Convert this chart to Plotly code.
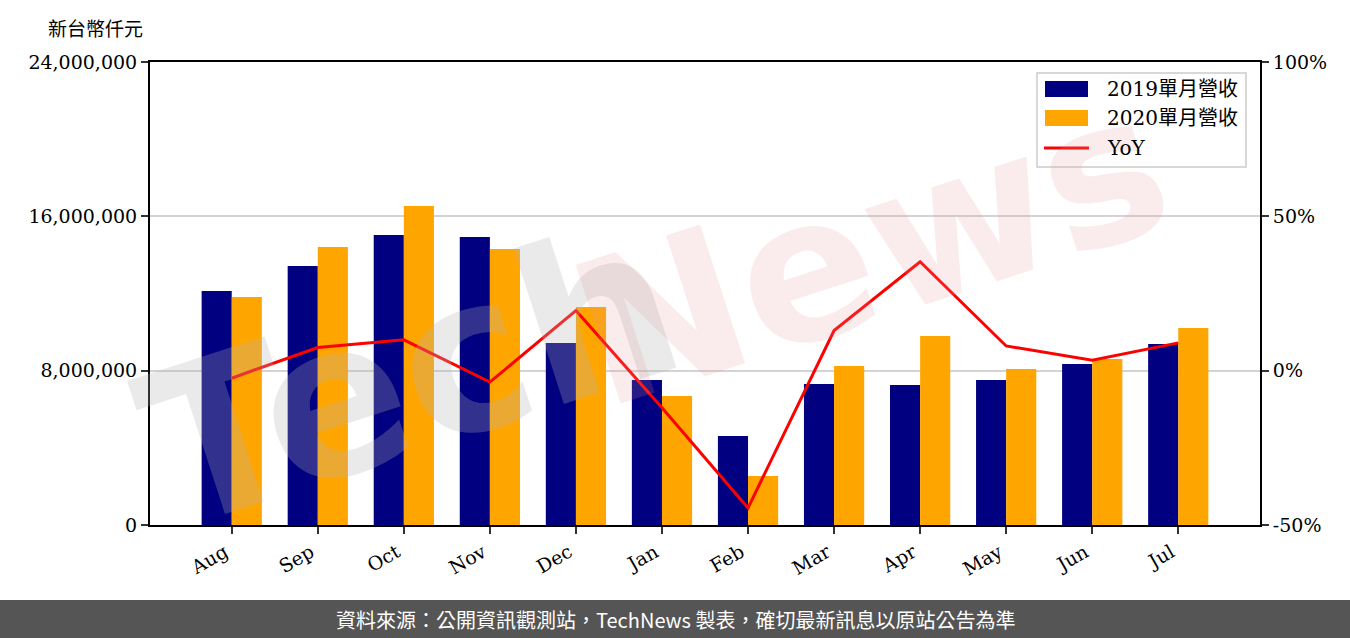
import plotly.graph_objects as go

months = ["Aug", "Sep", "Oct", "Nov", "Dec", "Jan", "Feb", "Mar", "Apr", "May", "Jun", "Jul"]
rev_2019 = [12130000, 13430000, 15030000, 14930000, 9430000, 7520000, 4610000, 7310000, 7260000, 7520000, 8350000, 9380000]
rev_2020 = [11820000, 14410000, 16540000, 14310000, 11300000, 6690000, 2540000, 8240000, 9800000, 8090000, 8610000, 10210000]
yoy = [-2.4, 7.5, 10.0, -3.7, 19.5, -12.0, -44.5, 13.0, 35.3, 8.0, 3.4, 9.0]

left_ticks = [0, 8000000, 16000000, 24000000]
left_text = ["0", "8,000,000", "16,000,000", "24,000,000"]
right_ticks = [-50, 0, 50, 100]
right_text = ["-50%", "0%", "50%", "100%"]

series_names = ["2019單月營收", "2020單月營收", "YoY"]
series_colors = ["#000080", "#FFA500", "#FF0000"]

SERIF = "DejaVu Serif, Noto Sans CJK TC, serif"
CJK = "Noto Sans CJK TC, sans-serif"

W, H = 1350, 638
ML, MR, MT, MB = 150, 90, 62, 113
PW, PH = W - ML - MR, H - MT - MB


def px(x):
    return (x - ML) / PW


def py(y):
    return 1 - (y - MT) / PH


fig = go.Figure()
fig.add_trace(go.Bar(x=months, y=rev_2019, name=series_names[0], marker_color=series_colors[0],
                     marker_line_width=0, offsetgroup="a"))
fig.add_trace(go.Bar(x=months, y=rev_2020, name=series_names[1], marker_color=series_colors[1],
                     marker_line_width=0, offsetgroup="b"))
fig.add_trace(go.Scatter(x=months, y=yoy, name=series_names[2], mode="lines",
                         line=dict(color=series_colors[2], width=3), yaxis="y2"))

fig.update_layout(
    width=W, height=H,
    margin=dict(l=ML, r=MR, t=MT, b=MB),
    paper_bgcolor="white", plot_bgcolor="white",
    barmode="group", bargap=0.3, bargroupgap=0,
    font=dict(family=SERIF, size=19, color="black"),
    showlegend=False,
    xaxis=dict(type="category", range=[-0.95, 11.95], showline=True, linecolor="black",
               linewidth=2, mirror=True, ticks="outside", ticklen=7, tickwidth=2,
               tickcolor="#333333", tickangle=-30, showgrid=False, ticklabelshift=-7,
               tickfont=dict(family=SERIF, size=19)),
    yaxis=dict(range=[0, 24000000], tickvals=left_ticks, ticktext=left_text,
               showline=True, linecolor="black", linewidth=2, ticks="outside",
               ticklen=7, tickwidth=2, tickcolor="#333333",
               showgrid=True, gridcolor="#d3d3d3", gridwidth=1.5, zeroline=False,
               tickfont=dict(family=SERIF, size=19)),
    yaxis2=dict(range=[-50, 100], tickvals=right_ticks, ticktext=right_text,
                overlaying="y", side="right", showline=True, linecolor="black",
                linewidth=2, ticks="outside", ticklen=7, tickwidth=2,
                tickcolor="#333333", showgrid=False, zeroline=False,
                tickfont=dict(family=SERIF, size=19)),
)

# watermark
fig.add_annotation(text="<b>Tech</b>", xref="paper", yref="paper", x=px(410), y=py(375),
                   showarrow=False, textangle=-18, xanchor="center", yanchor="middle",
                   font=dict(family="DejaVu Sans", size=215, color="rgba(180,180,180,0.28)"))
fig.add_annotation(text="<b>News</b>", xref="paper", yref="paper", x=px(870), y=py(250),
                   showarrow=False, textangle=-18, xanchor="center", yanchor="middle",
                   font=dict(family="DejaVu Sans", size=200, color="rgba(230,150,150,0.18)"))

# custom legend (matplotlib style)
fig.add_shape(type="rect", xref="paper", yref="paper", x0=px(1037), x1=px(1246),
              y0=py(167), y1=py(73), line=dict(color="#cccccc", width=1.5),
              fillcolor="rgba(255,255,255,0.8)", layer="above")
legend_rows = [89, 118, 148]
for i, (name, color) in enumerate(zip(series_names, series_colors)):
    yc = legend_rows[i]
    if i < 2:
        fig.add_shape(type="rect", xref="paper", yref="paper", x0=px(1045), x1=px(1088),
                      y0=py(yc + 8), y1=py(yc - 8), fillcolor=color, line_width=0, layer="above")
    else:
        fig.add_shape(type="line", xref="paper", yref="paper", x0=px(1044), x1=px(1089),
                      y0=py(yc), y1=py(yc), line=dict(color=color, width=3), layer="above")
    fig.add_annotation(text=name, xref="paper", yref="paper", x=px(1105), y=py(yc),
                       xanchor="left", yanchor="middle", showarrow=False,
                       font=dict(family=SERIF, size=20, color="black"))

# y-axis unit title
fig.add_annotation(text="新台幣仟元", xref="paper", yref="paper", x=px(95), y=py(27),
                   showarrow=False, xanchor="center", yanchor="middle",
                   font=dict(family=CJK, size=19, color="black"))

# footer band
fig.add_shape(type="rect", xref="paper", yref="paper", x0=px(0), x1=px(W),
              y0=py(H), y1=py(600), fillcolor="#555555", line_width=0, layer="above")
fig.add_annotation(text="資料來源：公開資訊觀測站，TechNews 製表，確切最新訊息以原站公告為準",
                   xref="paper", yref="paper", x=px(675), y=py(619), showarrow=False,
                   xanchor="center", yanchor="middle",
                   font=dict(family=CJK, size=20, color="white"))

fig.write_html("out.html", config={"displayModeBar": False},
               post_script="document.body.style.margin='0px';document.body.style.padding='0px';")
